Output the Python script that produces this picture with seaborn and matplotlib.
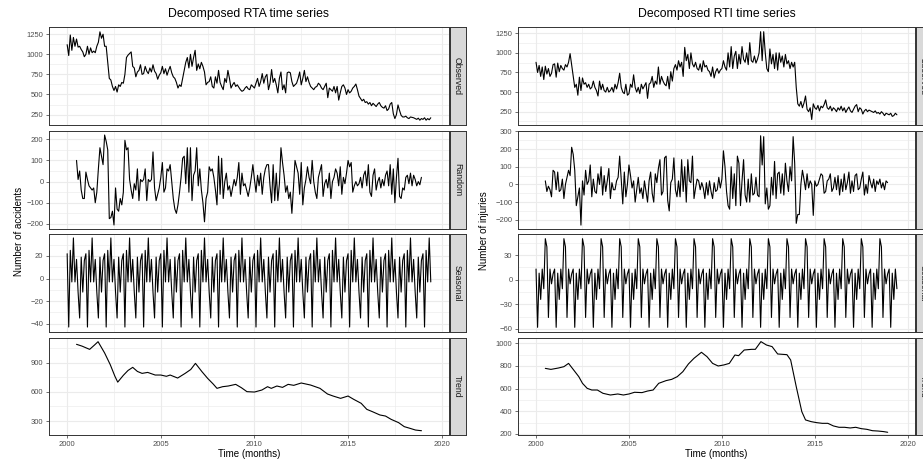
import numpy as np
import pandas as pd
import matplotlib
matplotlib.use("Agg")
import matplotlib.pyplot as plt
import seaborn as sns

sns.set_theme(style="white")
plt.rcParams['font.family'] = ['Liberation Sans', 'DejaVu Sans']

# ---------------- RTA (accidents) ----------------
# monthly, Jan 2000 - Jun 2019
rta_observed = [
    1120, 985, 1240, 1050, 1210, 1100, 1190, 1090, 1100, 1060, 1030, 970,
    1000, 1100, 1000, 1080, 1020, 1040, 1020, 1100, 1150, 1280, 1200, 1250,
    1100, 1100, 900, 700, 680, 600, 550, 600, 530, 620, 600, 650,
    640, 750, 960, 990, 1010, 1030, 850, 830, 720, 780, 800, 870,
    750, 760, 850, 790, 760, 830, 780, 870, 790, 760, 690, 740,
    770, 850, 760, 820, 740, 800, 850, 770, 720, 700, 650, 580,
    620, 600, 700, 800, 900, 960, 830, 1000, 850, 960, 1050, 800,
    880, 820, 900, 850, 780, 620, 650, 660, 720, 600, 580, 720,
    640, 800, 650, 600, 560, 700, 650, 800, 700, 580, 620, 650,
    600, 620, 590, 560, 540, 550, 580, 600, 570, 560, 620, 600,
    580, 640, 700, 600, 660, 760, 640, 720, 750, 560, 640, 810,
    650, 700, 620, 520, 700, 780, 560, 620, 520, 770, 780, 770,
    660, 600, 620, 640, 700, 780, 620, 700, 800, 660, 720, 650,
    600, 580, 560, 590, 600, 640, 620, 580, 560, 600, 640, 460,
    580, 560, 540, 600, 520, 600, 430, 520, 600, 620, 580, 500,
    560, 520, 540, 580, 600, 630, 560, 480, 450, 420, 440, 400,
    410, 380, 400, 360, 390, 370, 350, 380, 400, 360, 340, 330,
    360, 300, 320, 380, 400, 260, 200, 250, 370, 300, 240, 220,
    220, 230, 210, 200, 220, 215, 210, 200, 190, 205, 180, 200,
    190, 210, 180, 200, 185, 210,
]
# monthly, Jul 2000 - Dec 2018
rta_random = [
    100, 10, 50, -40, -80, -80,
    45, 10, -20, -30, -40, -30, -100, -50, 60, 160, 120, 80,
    220, 190, 150, -175, -170, -140, -205, -30, -130, -140, -80, -110,
    -50, 195, 150, 160, 10, -40, -80, -10, -40, 60, -90, 10,
    0, 10, 60, -90, 10, 0, 10, 140, -30, -90, -60, -30,
    20, 90, -50, -30, 60, 50, 80, 0, -80, -130, -150, -110,
    -50, 20, 110, 120, -10, 160, -50, 160, -90, 30, 50, 160,
    -20, 60, -40, -100, -190, -80, -50, 70, 50, 60, 20, -40,
    -110, 120, -60, 110, -80, 0, 40, -40, -20, -70, -30, 10,
    -20, 20, 90, -60, 40, -20, -10, -40, -70, -30, 20, 80,
    10, -50, 30, -20, 40, -60, 20, 60, 80, 80, -20, -100,
    80, -90, 40, -90, -10, 160, 90, 30, -50, -20, -80, -50,
    -150, -30, 100, 70, 40, -60, 90, -110, -30, 10, 70, 20,
    -10, 100, 0, -50, -80, 20, 50, 80, -70, -10, 10, -30,
    40, -80, 0, 20, 60, 40, -20, 70, -60, 20, -10, 40,
    100, 70, 90, -50, -20, 0, -20, -10, 20, -30, 30, 50,
    -20, 80, -50, -70, 30, 60, -40, 0, 20, -30, 10, -20,
    30, 50, -20, 80, -60, 60, -100, 20, 110, -70, -80, -30,
    -40, 20, 30, -10, 40, -20, 30, 10, -20, 0, -15, 20,
]
# one year of the seasonal component (Jan..Dec)
rta_season = [22, -43, 25, -3, 36, -3, 17, -12, -35, 19, -12, 16]
rta_trend_time = [2000.5, 2000.8, 2001.2, 2001.45, 2001.65, 2002.0, 2002.3, 2002.55,
                  2002.7, 2003.0, 2003.25, 2003.5, 2003.75, 2004.0, 2004.3, 2004.7,
                  2005.0, 2005.3, 2005.5, 2005.9, 2006.3, 2006.6, 2006.85, 2007.2,
                  2007.5, 2007.8, 2008.0, 2008.3, 2008.6, 2009.0, 2009.3, 2009.6,
                  2010.0, 2010.4, 2010.7, 2010.9, 2011.2, 2011.5, 2011.8, 2012.1,
                  2012.5, 2013.0, 2013.5, 2013.9, 2014.2, 2014.6, 2015.0, 2015.3,
                  2015.7, 2016.0, 2016.3, 2016.7, 2017.0, 2017.3, 2017.7, 2018.0,
                  2018.3, 2018.6, 2018.92]
rta_trend = [1089, 1070, 1037, 1080, 1116, 1000, 880, 760,
             700, 770, 820, 852, 810, 790, 800, 773,
             773, 760, 773, 742, 790, 830, 893, 807,
             739, 680, 636, 653, 660, 677, 643, 602,
             598, 619, 653, 636, 660, 646, 677, 667,
             691, 670, 636, 578, 557, 533, 557, 523,
             482, 420, 396, 362, 351, 317, 283, 242,
             225, 207, 200]

# ---------------- RTI (injuries) ----------------
rti_observed = [
    880, 750, 840, 700, 820, 660, 830, 730, 800, 700, 740, 850,
    860, 690, 870, 760, 840, 800, 780, 850, 820, 880, 990, 850,
    700, 560, 600, 460, 690, 520, 680, 600, 620, 560, 600, 540,
    560, 640, 560, 520, 450, 640, 530, 600, 520, 500, 560, 500,
    520, 560, 500, 600, 540, 620, 740, 560, 500, 480, 600, 460,
    480, 600, 560, 720, 560, 500, 560, 480, 600, 540, 580, 620,
    420, 600, 620, 700, 560, 640, 600, 820, 600, 700, 640, 600,
    580, 700, 540, 760, 640, 800, 850, 780, 900, 820, 880, 700,
    1070, 900, 980, 800, 1000, 860, 820, 880, 800, 780, 860, 760,
    900, 820, 840, 780, 760, 700, 820, 680, 760, 800, 740, 780,
    800, 900, 820, 780, 1000, 820, 1080, 800, 960, 1020, 800, 980,
    860, 1080, 920, 880, 1000, 850, 1130, 900, 880, 960, 870, 920,
    1000, 1270, 900, 1270, 1000, 800, 760, 1050, 860, 980, 800, 1000,
    780, 1000, 880, 960, 820, 980, 860, 900, 800, 880, 820, 880,
    560, 350, 320, 380, 300, 360, 450, 280, 250, 300, 150, 350,
    300, 280, 330, 260, 320, 300, 340, 400, 300, 280, 320, 260,
    300, 280, 250, 300, 270, 320, 260, 300, 240, 280, 310, 260,
    240, 280, 320, 340, 250, 300, 280, 220, 260, 280, 250, 270,
    260, 250, 240, 260, 230, 240, 220, 250, 230, 200, 230, 220,
    210, 230, 190, 200, 230, 210,
]
rti_random = [
    20, -40, -10, -30, -70, 80,
    70, -30, 70, -40, -30, 30, -80, 0, 40, 80, 50, 210,
    170, 80, -120, -70, -20, -230, 20, -60, 80, 0, 20, 110,
    -70, 30, -40, -50, 60, 0, 100, -60, 50, -40, 20, 90,
    -80, 10, -30, -30, 20, 40, 160, 30, -110, 70, -70, 0,
    110, 50, -20, 20, -100, -30, 40, -50, -20, -80, 20, -40,
    -100, 20, 70, -50, -100, 60, 10, 90, 140, -60, -40, 150,
    160, -90, -150, 10, 30, 150, -30, -70, 20, -70, 140, -40,
    100, -100, 140, 20, 10, 160, -80, -20, 30, 20, -30, 10,
    -20, -80, 10, -60, 20, -40, -80, 10, -40, -30, 40, -20,
    30, 190, 100, -40, -120, -140, 100, -80, 60, -120, 160, 120,
    -120, 20, 140, -60, -100, 30, -100, 60, -60, -50, 40, -60,
    -70, 275, 110, 270, -110, -20, -140, -120, 40, -60, 130, -80,
    60, 70, -50, 60, -60, 120, 20, -40, 100, 20, 270, 120,
    -220, -170, -170, 0, 80, 30, -30, 60, -20, 20, 0, -175,
    20, -10, 0, 30, 60, 50, -50, -40, 20, 30, 60, -40,
    -20, 40, -30, 50, -60, 30, -40, 60, -30, 10, 70, -50,
    20, -40, 50, 60, -30, -20, 30, 70, -60, 0, -50, 50,
    10, -20, 30, -40, 20, 0, 30, -20, 10, -30, 20, 10,
]
rti_season = [13, -58, 8, -24, 13, -11, 50, 40, -46, 13, -5, 7]
rti_trend_time = [2000.5, 2000.8, 2001.2, 2001.5, 2001.75, 2002.0, 2002.3, 2002.5,
                  2002.75, 2003.0, 2003.3, 2003.6, 2004.0, 2004.4, 2004.7, 2005.0,
                  2005.3, 2005.7, 2006.0, 2006.3, 2006.6, 2007.0, 2007.3, 2007.6,
                  2007.9, 2008.2, 2008.5, 2008.9, 2009.2, 2009.5, 2009.8, 2010.1,
                  2010.4, 2010.7, 2010.9, 2011.2, 2011.6, 2011.8, 2012.1, 2012.4,
                  2012.7, 2013.0, 2013.5, 2013.7, 2014.0, 2014.3, 2014.5, 2014.8,
                  2015.1, 2015.4, 2015.7, 2016.0, 2016.3, 2016.6, 2016.9, 2017.2,
                  2017.5, 2017.8, 2018.1, 2018.4, 2018.7, 2018.92]
rti_trend = [779, 770, 782, 794, 823, 770, 706, 647,
             603, 588, 588, 559, 544, 553, 544, 553,
             568, 565, 579, 588, 647, 671, 682, 706,
             750, 818, 868, 921, 882, 823, 800, 809,
             823, 897, 891, 941, 947, 947, 1015, 985,
             971, 906, 900, 853, 618, 397, 324, 309,
             300, 294, 294, 271, 259, 259, 253, 259,
             247, 241, 229, 226, 221, 215]

components = ['Observed', 'Random', 'Seasonal', 'Trend']


def build(observed, random, season, trend_t, trend_v):
    t_obs = 2000 + np.arange(len(observed)) / 12
    t_rand = 2000.5 + np.arange(len(random)) / 12
    parts = [
        pd.DataFrame({'time': t_obs, 'value': observed, 'component': 'Observed'}),
        pd.DataFrame({'time': t_rand, 'value': random, 'component': 'Random'}),
        pd.DataFrame({'time': t_obs, 'value': np.resize(season, len(observed)),
                      'component': 'Seasonal'}),
        pd.DataFrame({'time': trend_t, 'value': trend_v, 'component': 'Trend'}),
    ]
    return pd.concat(parts, ignore_index=True)


rta = build(rta_observed, rta_random, rta_season, rta_trend_time, rta_trend)
rti = build(rti_observed, rti_random, rti_season, rti_trend_time, rti_trend)

W, H = 923, 461
fig = plt.figure(figsize=(W / 100, H / 100), dpi=100)


def px_axes(x0, y0, x1, y1):
    return fig.add_axes([x0 / W, 1 - y1 / H, (x1 - x0) / W, (y1 - y0) / H])


rows = [(27, 125), (131, 229), (234, 332), (338, 435)]
panels = [
    dict(df=rta, x0=49, x1=449, title='Decomposed RTA time series',
         ylabel='Number of accidents', ylab_x=19,
         ylims=[(120, 1340), (-224, 239), (-47.4, 39.5), (156, 1154)],
         yticks=[[250, 500, 750, 1000, 1250], [-200, -100, 0, 100, 200],
                 [-40, -20, 0, 20], [300, 600, 900]]),
    dict(df=rti, x0=518, x1=915, title='Decomposed RTI time series',
         ylabel='Number of injuries', ylab_x=484,
         ylims=[(80, 1330), (-252, 302), (-63.7, 55.7), (191, 1047)],
         yticks=[[250, 500, 750, 1000, 1250], [-200, -100, 0, 100, 200, 300],
                 [-60, -30, 0, 30], [200, 400, 600, 800, 1000]]),
]

edge = '#333333'
grid_c = '#ebebeb'

for p in panels:
    for i, comp in enumerate(components):
        top, bot = rows[i]
        ax = px_axes(p['x0'], top, p['x1'], bot)
        d = p['df'][p['df']['component'] == comp]
        sns.lineplot(data=d, x='time', y='value', ax=ax, color='black',
                     linewidth=0.8, estimator=None)
        ax.set_xlim(1999.03, 2020.39)
        lo, hi = p['ylims'][i]
        ax.set_ylim(lo, hi)
        yt = p['yticks'][i]
        step = yt[1] - yt[0]
        ax.set_yticks(yt)
        ax.set_yticks([v + step / 2 for v in [yt[0] - step] + yt
                       if lo < v + step / 2 < hi], minor=True)
        ax.set_xticks([2000, 2005, 2010, 2015, 2020])
        ax.set_xticks([2002.5, 2007.5, 2012.5, 2017.5], minor=True)
        ax.set_xlabel('')
        ax.set_ylabel('')
        ax.set_axisbelow(True)
        ax.grid(which='major', color=grid_c, linewidth=0.8)
        ax.grid(which='minor', color=grid_c, linewidth=0.45)
        for s in ax.spines.values():
            s.set_color(edge)
            s.set_linewidth(0.7)
        ax.tick_params(axis='both', which='major', length=2.5, width=0.5,
                       color=edge, labelsize=5.5, labelcolor='#4d4d4d', pad=1.5,
                       left=True, bottom=True)
        ax.tick_params(axis='both', which='minor', length=0)
        if comp != 'Trend':
            ax.tick_params(axis='x', which='major', length=0, labelbottom=False)

        # facet strip on the right (the right-hand one runs off the figure edge)
        sx = px_axes(p['x1'] + 0.5, top, p['x1'] + 16.5, bot)
        sx.set_facecolor('#d9d9d9')
        sx.set_xticks([])
        sx.set_yticks([])
        for s in sx.spines.values():
            s.set_color(edge)
            s.set_linewidth(0.7)
        sx.text(0.5, 0.5, comp, rotation=-90, ha='center', va='center',
                fontsize=6.3, color='#1a1a1a', transform=sx.transAxes)

    cx = (p['x0'] + p['x1']) / 2 / W
    fig.text(cx, 1 - 14 / H, p['title'], ha='center', va='center',
             fontsize=8.8, color='black')
    fig.text(cx, 1 - 454 / H, 'Time (months)', ha='center', va='center',
             fontsize=7, color='black')
    fig.text(p['ylab_x'] / W, 1 - 231 / H, p['ylabel'], rotation=90,
             ha='center', va='center', fontsize=7, color='black')

fig.savefig('out.png', dpi=100, facecolor='white')
